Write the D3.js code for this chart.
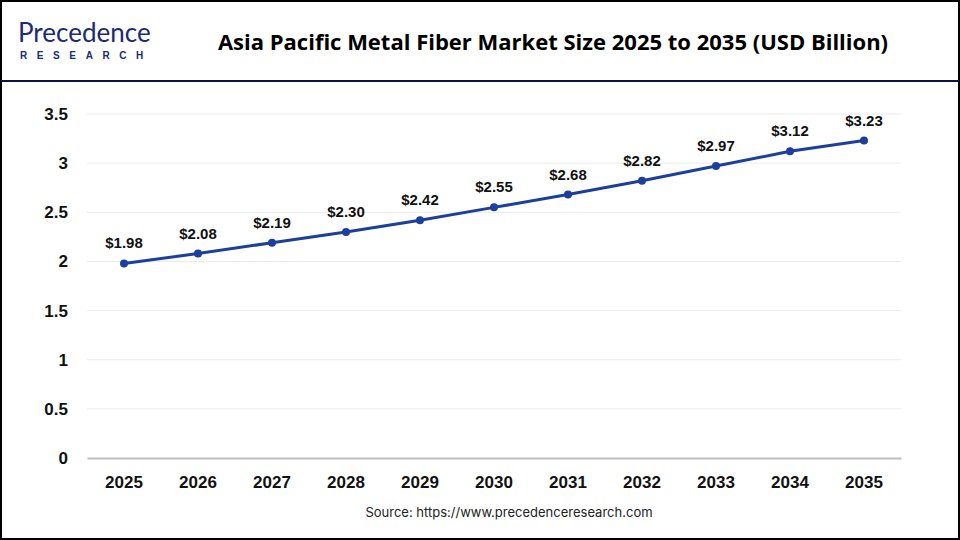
<!DOCTYPE html>
<html>
<head>
<meta charset="utf-8">
<script src="https://cdn.jsdelivr.net/npm/d3@7"></script>
<style>
  body { margin: 0; background: #fff; }
  svg { display: block; }
</style>
</head>
<body>
<div id="chart"></div>
<script>
// Chart data
//
var years = ["2025", "2026", "2027", "2028", "2029", "2030", "2031", "2032", "2033", "2034", "2035"];
var market_size = [1.98, 2.08, 2.19, 2.30, 2.42, 2.55, 2.68, 2.82, 2.97, 3.12, 3.23];
var y_ticks = [0, 0.5, 1, 1.5, 2, 2.5, 3, 3.5];

var W = 960, H = 540;
var margin = {left: 87, right: 59, top: 114, bottom: 82};

var svg = d3.select("#chart").append("svg")
  .attr("width", W)
  .attr("height", H);

// frame + header line
svg.append("rect")
  .attr("x", 1).attr("y", 1)
  .attr("width", W - 2).attr("height", H - 2)
  .attr("fill", "none").attr("stroke", "#000").attr("stroke-width", 2);
svg.append("line")
  .attr("x1", 1).attr("x2", W - 1)
  .attr("y1", 81).attr("y2", 81)
  .attr("stroke", "#0b1444").attr("stroke-width", 2);

// logo
var logo = svg.append("g").attr("transform", "translate(18,0)");
logo.append("text")
  .attr("x", 0).attr("y", 42)
  .attr("font-family", "Lato, 'Noto Sans', sans-serif")
  .attr("font-size", 26)
  .attr("fill", "#1b2a7a")
  .text("Precedence");
logo.append("text")
  .attr("x", 2).attr("y", 59)
  .attr("font-family", "'Liberation Sans', Arial, sans-serif")
  .attr("font-weight", "bold")
  .attr("font-size", 10)
  .attr("letter-spacing", 9.6)
  .attr("fill", "#1b2a7a")
  .text("RESEARCH");

// title
svg.append("text")
  .attr("x", 553).attr("y", 50)
  .attr("text-anchor", "middle")
  .attr("font-family", "'Open Sans', sans-serif")
  .attr("font-weight", "bold")
  .attr("font-size", 22)
  .attr("fill", "#000")
  .text("Asia Pacific Metal Fiber Market Size 2025 to 2035 (USD Billion)");

var x = d3.scaleBand()
  .domain(years)
  .range([margin.left, W - margin.right]);

var y = d3.scaleLinear()
  .domain([0, 3.5])
  .range([H - margin.bottom, margin.top]);

// gridlines
svg.append("g")
  .selectAll("line")
  .data(y_ticks.filter(function(d) { return d > 0; }))
  .enter().append("line")
  .attr("x1", margin.left).attr("x2", W - margin.right)
  .attr("y1", function(d) { return y(d); })
  .attr("y2", function(d) { return y(d); })
  .attr("stroke", "#ebebeb").attr("stroke-width", 1);

// y axis
var y_axis = svg.append("g")
  .attr("transform", "translate(" + (margin.left - 16) + ",0)")
  .call(d3.axisLeft(y).tickValues(y_ticks).tickSize(0).tickFormat(function(d) { return d; }));
y_axis.select(".domain").remove();
y_axis.selectAll("text")
  .attr("font-family", "'Liberation Sans', Arial, sans-serif")
  .attr("font-weight", "bold")
  .attr("font-size", 17)
  .attr("fill", "#111");

// x axis
var x_axis = svg.append("g")
  .attr("transform", "translate(0," + y(0) + ")")
  .call(d3.axisBottom(x).tickSize(0).tickPadding(18));
x_axis.select(".domain").attr("stroke", "#bdbdbd").attr("stroke-width", 2);
x_axis.selectAll("text")
  .attr("font-family", "'Liberation Sans', Arial, sans-serif")
  .attr("font-weight", "bold")
  .attr("font-size", 17)
  .attr("fill", "#111");

// line + points
var cx = function(d, i) { return x(years[i]) + x.bandwidth() / 2; };
var line = d3.line()
  .x(cx)
  .y(function(d) { return y(d); });

svg.append("path")
  .datum(market_size)
  .attr("d", line)
  .attr("fill", "none")
  .attr("stroke", "#1c3f9e")
  .attr("stroke-width", 3);

svg.append("g")
  .selectAll("circle")
  .data(market_size)
  .enter().append("circle")
  .attr("cx", cx)
  .attr("cy", function(d) { return y(d); })
  .attr("r", 4)
  .attr("fill", "#1c3f9e");

svg.append("g")
  .selectAll("text")
  .data(market_size)
  .enter().append("text")
  .attr("x", cx)
  .attr("y", function(d) { return y(d) - 15; })
  .attr("text-anchor", "middle")
  .attr("font-family", "'Liberation Sans', Arial, sans-serif")
  .attr("font-weight", "bold")
  .attr("font-size", 15)
  .attr("fill", "#111")
  .text(function(d) { return "$" + d.toFixed(2); });

// source
svg.append("text")
  .attr("x", 509).attr("y", 517)
  .attr("text-anchor", "middle")
  .attr("font-family", "Inter, 'Noto Sans', sans-serif")
  .attr("font-size", 13)
  .attr("fill", "#222")
  .text("Source: https://www.precedenceresearch.com");
</script>
</body>
</html>
